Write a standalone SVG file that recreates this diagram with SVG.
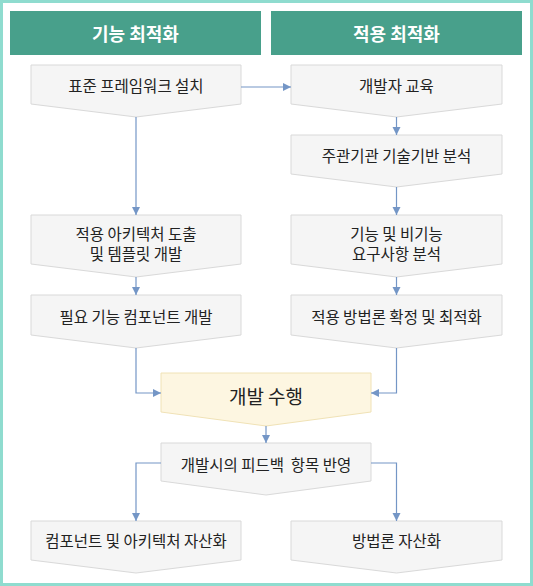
<svg xmlns="http://www.w3.org/2000/svg" width="533" height="586" viewBox="0 0 533 586">
<defs>
<style>
.frame{fill:#ffffff;stroke:#8fdccf;stroke-width:3}
.hdr{fill:#48a08b}
.hdrt{font-family:"Noto Sans CJK KR","Noto Sans",sans-serif;font-size:18px;font-weight:bold;fill:#ffffff;text-anchor:middle;dominant-baseline:central}
.box{fill:#f5f5f5;stroke:#d9d9d9;stroke-width:1}
.boxy{fill:#fdf6e1;stroke:#f0e2b6;stroke-width:1}
.t{font-family:"Noto Sans CJK KR","Noto Sans",sans-serif;font-size:15.5px;fill:#222222;text-anchor:middle;dominant-baseline:central}
.tb{font-family:"Noto Sans CJK KR","Noto Sans",sans-serif;font-size:19px;fill:#222222;text-anchor:middle;dominant-baseline:central}
.c{fill:none;stroke:#7496c6;stroke-width:1.2;marker-end:url(#ah)}
</style>
<marker id="ah" markerUnits="userSpaceOnUse" markerWidth="9" markerHeight="9" refX="8" refY="4.5" orient="auto">
<path d="M0,0.5 L8,4.5 L0,8.5 z" fill="#7496c6"/>
</marker>
</defs>
<rect class="frame" x="1.5" y="1.5" width="530" height="583"/>
<g id="hdr-left"><rect class="hdr" x="10" y="11" width="251" height="44"/><text class="hdrt" x="135.5" y="33">기능 최적화</text></g>
<g id="hdr-right"><rect class="hdr" x="271" y="11" width="251" height="44"/><text class="hdrt" x="396.5" y="33">적용 최적화</text></g>

<g id="n1"><path class="box" d="M31,65 H241 V104 L136,117 L31,104 Z"/><text class="t" x="136" y="85">표준 프레임워크 설치</text></g>
<g id="n2"><path class="box" d="M291,65 H502 V104 L396.5,117 L291,104 Z"/><text class="t" x="396.5" y="85">개발자 교육</text></g>
<g id="n3"><path class="box" d="M291,135 H502 V174 L396.5,187 L291,174 Z"/><text class="t" x="396.5" y="155">주관기관 기술기반 분석</text></g>
<g id="n4"><path class="box" d="M31,215 H241 V264 L136,277 L31,264 Z"/><text class="t" x="136" y="233">적용 아키텍처 도출</text><text class="t" x="136" y="253">및 템플릿 개발</text></g>
<g id="n5"><path class="box" d="M291,215 H502 V264 L396.5,277 L291,264 Z"/><text class="t" x="396.5" y="233">기능 및 비기능</text><text class="t" x="396.5" y="253">요구사항 분석</text></g>
<g id="n6"><path class="box" d="M31,295 H241 V335 L136,348 L31,335 Z"/><text class="t" x="136" y="316">필요 기능 컴포넌트 개발</text></g>
<g id="n7"><path class="box" d="M291,295 H502 V335 L396.5,348 L291,335 Z"/><text class="t" x="396.5" y="316">적용 방법론 확정 및 최적화</text></g>
<g id="n8"><path class="boxy" d="M161,373 H371 V412 L266,426 L161,412 Z"/><text class="tb" x="266" y="395">개발 수행</text></g>
<g id="n9"><path class="box" d="M161,443 H371 V481 L266,495 L161,481 Z"/><text class="t" x="266" y="464" xml:space="preserve">개발시의 피드백  항목 반영</text></g>
<g id="n10"><path class="box" d="M31,521 H241 V560 L136,573 L31,560 Z"/><text class="t" x="136" y="540">컴포넌트 및 아키텍처 자산화</text></g>
<g id="n11"><path class="box" d="M291,521 H502 V560 L396.5,573 L291,560 Z"/><text class="t" x="396.5" y="540">방법론 자산화</text></g>

<g id="connectors">
<path class="c" d="M241,87 H291"/>
<path class="c" d="M136,117 V215"/>
<path class="c" d="M396.5,117 V135"/>
<path class="c" d="M396.5,187 V215"/>
<path class="c" d="M136,277 V295"/>
<path class="c" d="M396.5,277 V295"/>
<path class="c" d="M136,348 V393 H161"/>
<path class="c" d="M396.5,348 V393 H371"/>
<path class="c" d="M266,426 V443"/>
<path class="c" d="M161,463 H136 V521"/>
<path class="c" d="M371,463 H396.5 V521"/>
</g>
</svg>
